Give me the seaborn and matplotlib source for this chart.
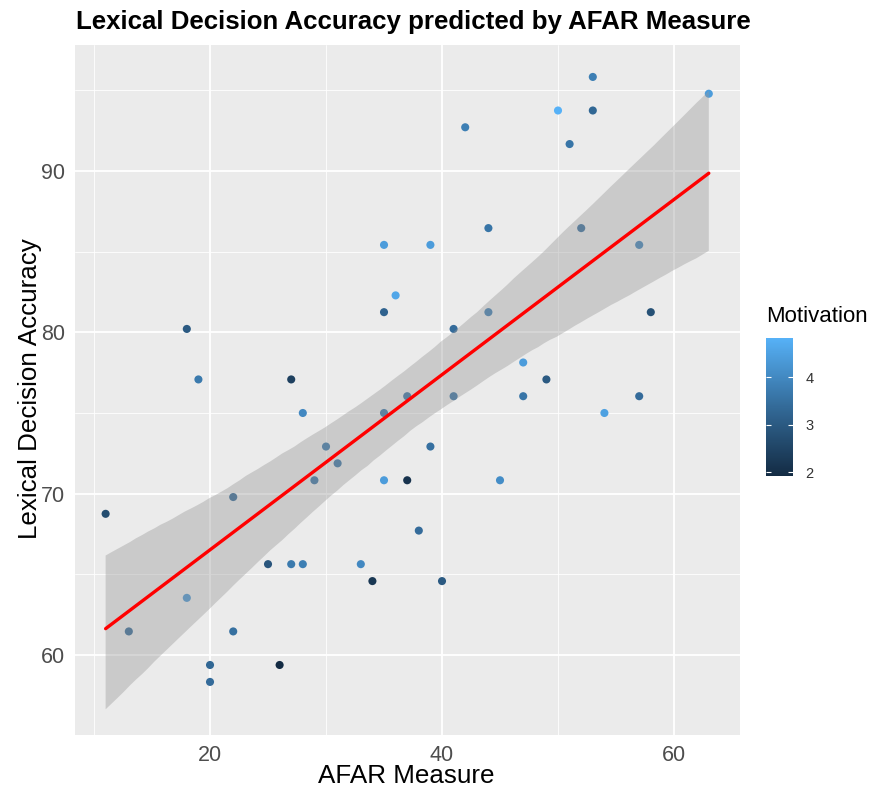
import numpy as np
import pandas as pd
import seaborn as sns
import matplotlib.pyplot as plt
from matplotlib.colors import LinearSegmentedColormap, Normalize
from matplotlib.collections import PolyCollection
import matplotlib as mpl

# AFAR score, lexical decision accuracy (%) and motivation rating per participant
afar = [11, 13, 18, 18, 19, 20, 20, 22, 22, 25,
        26, 27, 27, 28, 28, 29, 30, 31, 33, 34,
        35, 35, 35, 35, 36, 37, 37, 38, 39, 39,
        40, 41, 41, 42, 44, 44, 45, 47, 47, 49,
        50, 51, 52, 53, 53, 54, 57, 57, 58, 63]
accuracy = [68.75, 61.46, 80.21, 63.54, 77.08, 59.38, 58.33, 69.79, 61.46, 65.63,
            59.38, 77.08, 65.63, 75.00, 65.63, 70.83, 72.92, 71.88, 65.63, 64.58,
            85.42, 81.25, 75.00, 70.83, 82.29, 76.04, 70.83, 67.71, 85.42, 72.92,
            64.58, 80.21, 76.04, 92.71, 86.46, 81.25, 70.83, 78.13, 76.04, 77.08,
            93.75, 91.67, 86.46, 95.83, 93.75, 75.00, 85.42, 76.04, 81.25, 94.79]
motivation = [2.7, 3.3, 3.0, 4.2, 3.7, 3.3, 3.4, 3.3, 3.5, 2.9,
              1.92, 2.4, 3.7, 4.0, 3.8, 3.5, 3.6, 3.5, 4.0, 2.2,
              4.4, 3.2, 3.6, 4.4, 4.6, 3.5, 2.1, 3.4, 4.4, 3.5,
              3.0, 3.4, 3.5, 3.8, 3.6, 3.7, 4.1, 4.4, 3.6, 3.0,
              4.83, 3.6, 3.4, 3.8, 3.3, 4.5, 3.8, 3.4, 2.8, 4.4]
x_ticks = [20, 40, 60]
y_ticks = [60, 70, 80, 90]
legend_ticks = [2, 3, 4]

df = pd.DataFrame({"AFAR": afar, "Accuracy": accuracy, "Motivation": motivation})

sns.set_theme(style="darkgrid")
plt.rcParams["font.family"] = ["Liberation Sans", "DejaVu Sans"]

cmap = LinearSegmentedColormap.from_list("gg_blue", ["#132B43", "#336A98", "#56B1F7"])
norm = Normalize(vmin=min(motivation), vmax=max(motivation))

W, H = 870, 791
fig = plt.figure(figsize=(W / 100, H / 100), dpi=100)
fig.patch.set_facecolor("white")
ax = fig.add_axes([75 / W, 1 - 735 / H, 665 / W, 690 / H])
ax.set_facecolor("#EBEBEB")

sns.scatterplot(data=df, x="AFAR", y="Accuracy", hue="Motivation", palette=cmap,
                hue_norm=norm, s=34, linewidth=0, legend=False, ax=ax, zorder=2)
sns.regplot(data=df, x="AFAR", y="Accuracy", scatter=False, ci=95, seed=7,
            n_boot=2000, color="#999999",
            line_kws=dict(color="red", lw=2.4, zorder=4), ax=ax)

# grey confidence ribbon drawn over the points
for coll in ax.collections:
    if isinstance(coll, PolyCollection):
        coll.set_alpha(None)
        coll.set_facecolor((0.6, 0.6, 0.6, 0.4))
        coll.set_edgecolor("none")
        coll.set_zorder(3)

ax.set_xlim(8.36, 65.69)
ax.set_ylim(55.04, 97.81)
ax.set_xticks(x_ticks)
ax.set_xticks([10, 30, 50], minor=True)
ax.set_yticks(y_ticks)
ax.set_yticks([65, 75, 85, 95], minor=True)
ax.grid(which="major", color="white", lw=1.3)
ax.grid(which="minor", color="white", lw=0.6)
ax.tick_params(which="major", length=4, width=1, color="#333333",
               labelsize=15.5, labelcolor="#4D4D4D", pad=3)
ax.tick_params(which="minor", length=0)
for s in ax.spines.values():
    s.set_visible(False)
ax.set_xlabel("")
ax.set_ylabel("")

fig.text(76 / W, 1 - 22 / H, "Lexical Decision Accuracy predicted by AFAR Measure",
         ha="left", va="center", fontsize=18.6, fontweight="bold", color="black")
fig.text(406 / W, 1 - 776 / H, "AFAR Measure", ha="center", va="center",
         fontsize=18.7, color="black")
fig.text(30 / W, 1 - 389 / H, "Lexical Decision Accuracy", ha="center", va="center",
         rotation=90, fontsize=18.7, color="black")

# colour bar legend
cax = fig.add_axes([766 / W, 1 - 476 / H, 27 / W, 138 / H])
cb = mpl.colorbar.ColorbarBase(cax, cmap=cmap, norm=norm, orientation="vertical")
cb.outline.set_visible(False)
cb.set_ticks(legend_ticks)
cax.tick_params(length=0, labelsize=10.5, labelcolor="#333333", pad=9)
cax.hlines(legend_ticks, 0, 0.2, color="white", lw=0.8, transform=cax.get_yaxis_transform())
cax.hlines(legend_ticks, 0.8, 1.0, color="white", lw=0.8, transform=cax.get_yaxis_transform())
fig.text(766 / W, 1 - 316 / H, "Motivation", ha="left", va="center",
         fontsize=16, color="black")

fig.savefig("out.png", dpi=100)
